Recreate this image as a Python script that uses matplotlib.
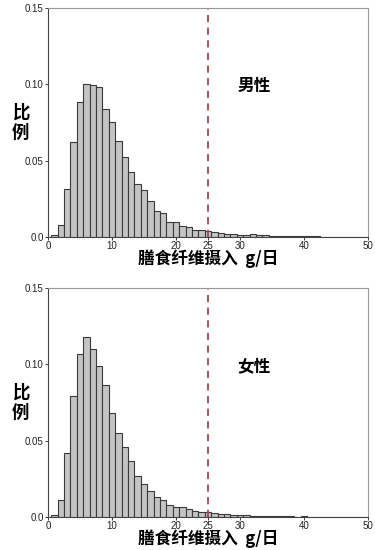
import matplotlib
matplotlib.use("Agg")
import matplotlib.pyplot as plt

plt.rcParams['font.family'] = ['Liberation Sans', 'Noto Sans CJK SC', 'DejaVu Sans']

# bin centers (g/day), bin width 1
bin_centers = list(range(1, 50))

male_share = [
    0.0011, 0.0078, 0.0316, 0.0619, 0.0887, 0.1000, 0.0993, 0.0985, 0.0837, 0.0756,
    0.0632, 0.0521, 0.0423, 0.0349, 0.0305, 0.0233, 0.0170, 0.0155, 0.0098, 0.0096,
    0.0070, 0.0063, 0.0048, 0.0045, 0.0038, 0.0032, 0.0027, 0.0022, 0.0018, 0.0016,
    0.0015, 0.0017, 0.0012, 0.0011, 0.0009, 0.0008, 0.0007, 0.0006, 0.0006, 0.0005,
    0.0004, 0.0004, 0.0003, 0.0003, 0.0003, 0.0002, 0.0002, 0.0002, 0.0002,
]

female_share = [
    0.0015, 0.0113, 0.0417, 0.0793, 0.1065, 0.1178, 0.1102, 0.0987, 0.0865, 0.0678,
    0.0548, 0.0457, 0.0370, 0.0270, 0.0215, 0.0170, 0.0130, 0.0111, 0.0078, 0.0065,
    0.0065, 0.0050, 0.0037, 0.0033, 0.0030, 0.0026, 0.0022, 0.0017, 0.0014, 0.0013,
    0.0012, 0.0009, 0.0007, 0.0006, 0.0005, 0.0005, 0.0004, 0.0004, 0.0003, 0.0004,
    0.0003, 0.0002, 0.0002, 0.0002, 0.0002, 0.0001, 0.0001, 0.0001, 0.0001,
]

panels = [("男性", male_share), ("女性", female_share)]
cutoff = 25
x_ticks = [0, 10, 20, 25, 30, 40, 50]
y_ticks = [0.0, 0.05, 0.10, 0.15]
y_tick_labels = ["0.0", "0.05", "0.10", "0.15"]

cjk = ['Noto Sans CJK SC', 'DejaVu Sans']

fig = plt.figure(figsize=(3.75, 5.5), dpi=100)
axes_boxes = [
    [48 / 375, 1 - 237 / 550, 320 / 375, 229 / 550],
    [48 / 375, 1 - 517 / 550, 320 / 375, 229 / 550],
]

for (label, share), box in zip(panels, axes_boxes):
    ax = fig.add_axes(box)
    ax.bar(bin_centers, share, width=1.0, color="#c4c4c4",
           edgecolor="#3a3a3a", linewidth=0.8)
    ax.axvline(cutoff, color="#a84452", linestyle=(0, (4, 3)), linewidth=1.3)
    ax.set_xlim(0, 50)
    ax.set_ylim(0, 0.15)
    ax.set_xticks(x_ticks)
    ax.set_xticklabels([str(t) for t in x_ticks])
    ax.set_yticks(y_ticks)
    ax.set_yticklabels(y_tick_labels)
    ax.tick_params(labelsize=7, length=2, width=0.6, pad=1, colors="#222222")
    for side in ["top", "right"]:
        ax.spines[side].set_color("#999999")
        ax.spines[side].set_linewidth(0.8)
    for side in ["left", "bottom"]:
        ax.spines[side].set_color("#444444")
        ax.spines[side].set_linewidth(0.8)

    ax.text(0.645, 0.66, label, transform=ax.transAxes, fontsize=12,
            fontweight="bold", family=cjk, ha="center", va="center")
    ax.set_xlabel("膳食纤维摄入  g/日", fontsize=12, fontweight="bold",
                  family=cjk, labelpad=-1)
    ax.set_ylabel("比\n例", fontsize=12.5, fontweight="bold", family=cjk,
                  rotation=0, va="center", ha="center",
                  linespacing=1.15)
    ax.yaxis.set_label_coords(-0.085, 0.5)

fig.savefig("out.png", dpi=100)
plt.close(fig)
print("Wrote: out.png")
